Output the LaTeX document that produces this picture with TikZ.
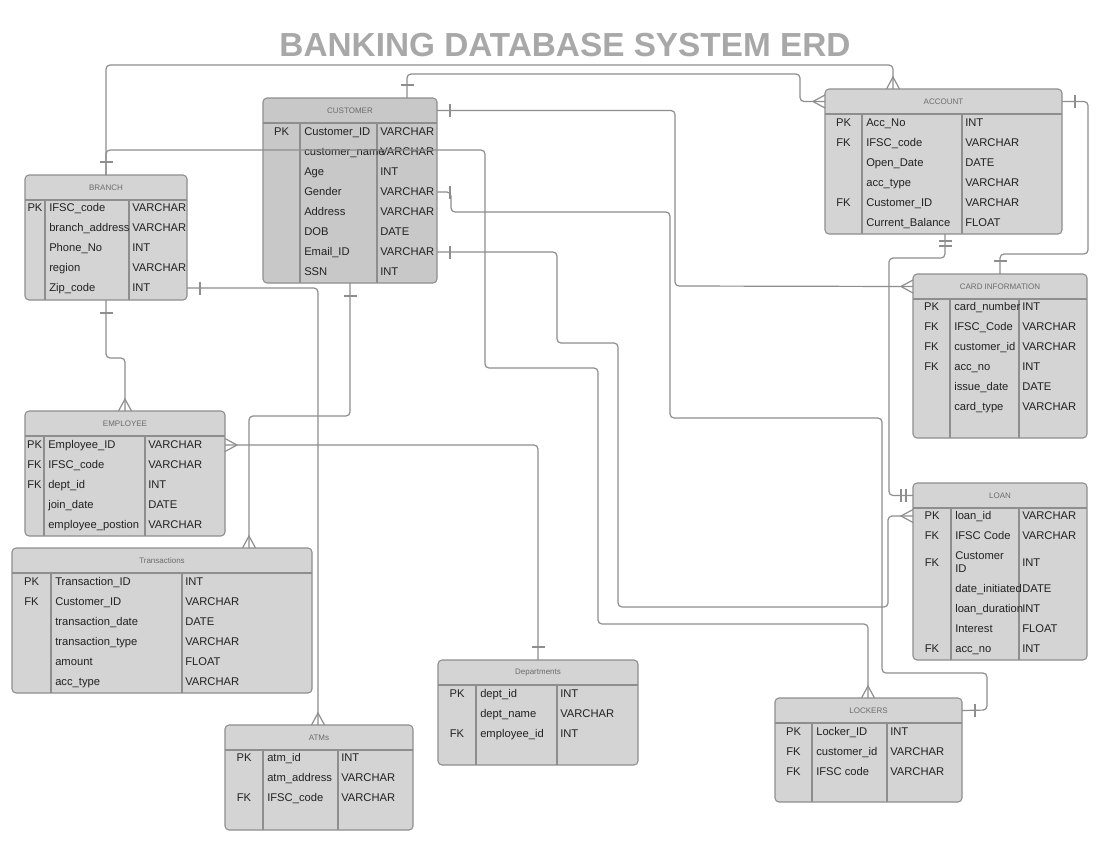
\documentclass[tikz,border=0pt]{standalone}
\usepackage{fontspec}
\setmainfont{Liberation Sans}
\usetikzlibrary{calc}

\definecolor{boxgray}{HTML}{D4D4D5}
\definecolor{custgray}{HTML}{C8C8C9}
\definecolor{linegray}{HTML}{8E8E8E}
\definecolor{titlegray}{HTML}{A8A8A8}
\definecolor{textblack}{HTML}{222222}

% entity table: [style] name, left, top, right, bottom, column 1, column 2, title
\newcommand{\erdtable}[9][]{%
  \node[box, #1, minimum width={(#5-#3)*0.75pt}, minimum height={(#6-#4)*0.75pt}] (#2) at ({(#3+#5)/2},{(#4+#6)/2}) {};
  \node[boxtitle] (#2-h) at ({(#3+#5)/2},{#4+12.5}) {#9};
  \draw[cols] (#3,{#4+25}) -- (#5,{#4+25}) (#7,{#4+25}) -- (#7,#6) (#8,{#4+25}) -- (#8,#6);
}
% table rows: name, left, column 1, column 2, list of y/key/field/type
\newcommand{\erdrows}[5]{%
  \foreach \ry/\rk/\rf/\rt [count=\i] in {#5} {
    \node[keytext] (#1-k\i) at ({(#2+#3)/2},\ry) {\rk};
    \node[fieldtext] (#1-r\i) at ({#3+4},\ry) {\rf};
    \node[fieldtext] (#1-t\i) at ({#4+3},\ry) {\rt};
  }%
}

\begin{document}
\begin{tikzpicture}[x=0.75pt, y=-0.75pt,
box/.style={draw=linegray, fill=boxgray, rounded corners=3pt, line width=0.8pt, inner sep=0pt, outer sep=0pt}, % entity table
cols/.style={draw=linegray, line width=0.8pt}, % header and column lines
boxtitle/.style={font=\fontsize{6}{7}\selectfont, text=gray!85!black}, % entity name
keytext/.style={font=\fontsize{8.4}{10}\selectfont, text=textblack, inner sep=0pt, text height=6.5pt, text depth=2pt}, % PK / FK
fieldtext/.style={keytext, anchor=west}, % attribute and type
rel/.style={draw=linegray, line width=0.9pt, rounded corners=3pt}, % relationship lines
heading/.style={font=\fontsize{25}{29}\selectfont\bfseries, text=titlegray}, % title
one/.pic={\draw[rel, sharp corners] (13,-6.5) -- (13,6.5);}, % one
two/.pic={\draw[rel, sharp corners] (7,-6.5) -- (7,6.5) (12,-6.5) -- (12,6.5);}, % one and only one
crow/.pic={\draw[rel, sharp corners] (0,-6.5) -- (12,0) -- (0,6.5);} % many
]

\path[use as bounding box, fill=white] (0,0) rectangle (1100,850);

\node[heading] (title) at (565,45) {BANKING DATABASE SYSTEM ERD};

% tables
\erdtable[fill=custgray]{cust}{263}{98}{437}{283}{300}{377}{CUSTOMER}
\erdtable{branch}{25}{175}{187}{300}{45}{129}{BRANCH}
\erdtable{acct}{825}{89}{1062}{234}{862}{962}{ACCOUNT}
\erdtable{card}{913}{274}{1087}{438}{950}{1019}{CARD INFORMATION}
\erdtable{loan}{913}{483}{1087}{660}{951}{1019}{LOAN}
\erdtable{lock}{775}{698}{962}{802}{812}{887}{LOCKERS}
\erdtable{dept}{438}{660}{638}{765}{476}{557}{Departments}
\erdtable{atm}{225}{725}{413}{830}{263}{338}{ATMs}
\erdtable{trans}{12}{548}{312}{693}{51}{182}{Transactions}
\erdtable{emp}{25}{411}{225}{536}{44}{145}{EMPLOYEE}

% rows
\erdrows{cust}{263}{300}{377}{132/PK/Customer\_ID/VARCHAR, 152//customer\_name/VARCHAR, 172//Age/INT, 192//Gender/VARCHAR, 212//Address/VARCHAR, 232//DOB/DATE, 252//Email\_ID/VARCHAR, 272//SSN/INT}
\erdrows{branch}{25}{45}{129}{208/PK/IFSC\_code/VARCHAR, 228//branch\_address/VARCHAR, 248//Phone\_No/INT, 268//region/VARCHAR, 288//Zip\_code/INT}
\erdrows{acct}{825}{862}{962}{123/PK/Acc\_No/INT, 143/FK/IFSC\_code/VARCHAR, 163//Open\_Date/DATE, 183//acc\_type/VARCHAR, 203/FK/Customer\_ID/VARCHAR, 223//Current\_Balance/FLOAT}
\erdrows{card}{913}{950}{1019}{307/PK/card\_number/INT, 327/FK/IFSC\_Code/VARCHAR, 347/FK/customer\_id/VARCHAR, 367/FK/acc\_no/INT, 387//issue\_date/DATE, 407//card\_type/VARCHAR}
\erdrows{loan}{913}{951}{1019}{516/PK/loan\_id/VARCHAR, 536/FK/IFSC Code/VARCHAR, 556//Customer/, 569//ID/, 563/FK//INT, 589//date\_initiated/DATE, 609//loan\_duration/INT, 629//Interest/FLOAT, 649/FK/acc\_no/INT}
\erdrows{lock}{775}{812}{887}{732/PK/Locker\_ID/INT, 752/FK/customer\_id/VARCHAR, 772/FK/IFSC code/VARCHAR}
\erdrows{dept}{438}{476}{557}{694/PK/dept\_id/INT, 714//dept\_name/VARCHAR, 734/FK/employee\_id/INT}
\erdrows{atm}{225}{263}{338}{758/PK/atm\_id/INT, 778//atm\_address/VARCHAR, 798/FK/IFSC\_code/VARCHAR}
\erdrows{trans}{12}{51}{182}{582/PK/Transaction\_ID/INT, 602/FK/Customer\_ID/VARCHAR, 622//transaction\_date/DATE, 642//transaction\_type/VARCHAR, 662//amount/FLOAT, 682//acc\_type/VARCHAR}
\erdrows{emp}{25}{44}{145}{445/PK/Employee\_ID/VARCHAR, 465/FK/IFSC\_code/VARCHAR, 485/FK/dept\_id/INT, 505//join\_date/DATE, 525//employee\_postion/VARCHAR}

% relationships
\draw[rel] (branch.north) |- ($(acct.north west)+(68,-24)$) -- ($(acct.north west)+(68,0)$);
\draw[rel] (branch.north) |- (485,150) |- (598,368) |- (868,624) -- ($(lock.north west)+(93,0)$);
\draw[rel] ($(cust.north west)+(144,0)$) |- (800,74) |- (acct.west |- acct-h);
\draw[rel] (cust.east |- cust-h) -| (675,286) -- (card.west |- card-h);
\draw[rel] (cust.east |- cust-r4) -| (451,212) -| (670,418) -| (882,673) -| (987,710) -- (lock.east |- lock-h);
\draw[rel] (cust.east |- cust-r7) -| (557,343) -| (618,607) -| (888,516) -- (loan.west |- loan-r1);
\draw[rel] ($(acct.south west)+(120,0)$) |- (889,258) |- (loan.west |- loan-h);
\draw[rel] (acct.east |- acct-h) -| (1088,254) -| ($(card.north west)+(87,0)$);
\draw[rel] (branch.east |- branch-r5) -| ($(atm.north west)+(93,0)$);
\draw[rel] ($(cust.south west)+(87,0)$) |- (249,416) -- ($(trans.north west)+(237,0)$);
\draw[rel] (branch.south) |- (125,358) -- (emp.north);
\draw[rel] (emp.east |- emp-r1) -| (dept.north);

% ends
\pic[rotate=90] at (branch.north) {one};
\pic[rotate=90] at ($(acct.north west)+(68,0)$) {crow};
\pic[rotate=90] at ($(lock.north west)+(93,0)$) {crow};
\pic[rotate=90] at ($(cust.north west)+(144,0)$) {one};
\pic[rotate=180] at (acct.west |- acct-h) {crow};
\pic at (cust.east |- cust-h) {one};
\pic[rotate=180] at (card.west |- card-h) {crow};
\pic at (cust.east |- cust-r4) {one};
\pic at (lock.east |- lock-h) {one};
\pic at (cust.east |- cust-r7) {one};
\pic[rotate=180] at (loan.west |- loan-r1) {crow};
\pic[rotate=-90] at ($(acct.south west)+(120,0)$) {two};
\pic[rotate=180] at (loan.west |- loan-h) {two};
\pic at (acct.east |- acct-h) {one};
\pic[rotate=90] at ($(card.north west)+(87,0)$) {one};
\pic at (branch.east |- branch-r5) {one};
\pic[rotate=90] at ($(atm.north west)+(93,0)$) {crow};
\pic[rotate=-90] at ($(cust.south west)+(87,0)$) {one};
\pic[rotate=90] at ($(trans.north west)+(237,0)$) {crow};
\pic[rotate=-90] at (branch.south) {one};
\pic[rotate=90] at (emp.north) {crow};
\pic at (emp.east |- emp-r1) {crow};
\pic[rotate=90] at (dept.north) {one};

\end{tikzpicture}
\end{document}
